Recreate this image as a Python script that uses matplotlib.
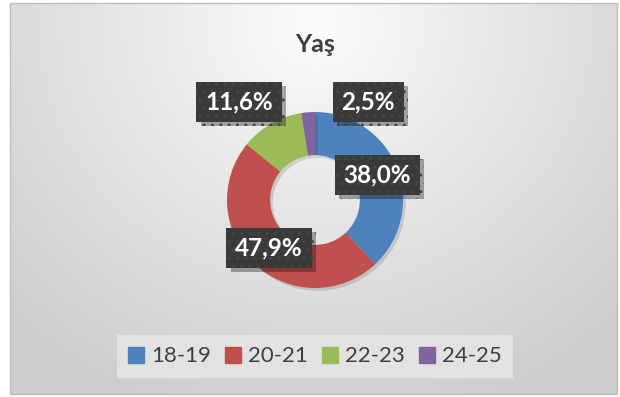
import numpy as np
import matplotlib.pyplot as plt
from matplotlib.patches import Rectangle, Patch
import matplotlib.patheffects as pe

# age groups and their share of respondents (%)
groups = ["18-19", "20-21", "22-23", "24-25"]
shares = [38.0, 47.9, 11.6, 2.5]
colors = ["#4f81bd", "#c0504d", "#9bbb59", "#8064a2"]

# label box centres, in pixels from the top-left corner
label_xy = [(377, 175), (269, 248), (239, 102), (368, 102)]

W, H = 620, 397
fig = plt.figure(figsize=(W / 100, H / 100), dpi=100)
ax = fig.add_axes([0, 0, 1, 1])
ax.set_xlim(0, W)
ax.set_ylim(0, H)
ax.axis("off")

# chart area with a soft grey gradient
x0, x1, y0, y1 = 10, 617, H - 394, H - 3
gx, gy = np.meshgrid(np.linspace(x0, x1, 300), np.linspace(y1, y0, 200))
d = np.sqrt(((gx - 315) / 360) ** 2 + ((gy - (H - 25)) / 340) ** 2)
shade = 0.985 - 0.15 * np.clip(d, 0, 1.2)
ax.imshow(np.dstack([shade, shade, shade]), extent=(x0, x1, y0, y1),
          aspect="auto", zorder=0, interpolation="bilinear")
ax.add_patch(Rectangle((x0, y0), x1 - x0, y1 - y0, fill=False,
                       ec="#bdbdbd", lw=1, zorder=1))

cx, cy, r = 315, H - 200, 88
wedges, _ = ax.pie(shares, colors=colors, startangle=90, counterclock=False,
                   center=(cx, cy), radius=r, frame=True,
                   wedgeprops=dict(width=r * 0.49, edgecolor="none"))
for w in wedges:
    w.set_zorder(2)
    w.set_path_effects([pe.SimplePatchShadow(offset=(2, -2), alpha=0.15),
                        pe.Normal()])
ax.set_xlim(0, W)
ax.set_ylim(0, H)
ax.set_aspect("auto")
ax.axis("off")

for val, (lx, ly) in zip(shares, label_xy):
    t = ax.text(lx, H - ly, f"{val:.1f}%".replace(".", ","), ha="center",
                va="center", fontsize=17.5, fontweight="bold", color="white",
                family="Lato", zorder=5,
                bbox=dict(boxstyle="square,pad=0.36", fc="#3a3a3a",
                          ec="#464646", lw=0, hatch=".."))
    t.get_bbox_patch().set_path_effects(
        [pe.SimplePatchShadow(offset=(3, -3), alpha=0.35), pe.Normal()])

ax.text(315, H - 45, "Yaş", ha="center", va="center", fontsize=18,
        fontweight="bold", color="#404040", family="Lato")

handles = [Patch(color=c, label=g) for c, g in zip(colors, groups)]
leg = ax.legend(handles=handles, loc="center", bbox_to_anchor=(315, H - 356.5),
                bbox_transform=ax.transData, ncol=4, frameon=True,
                fancybox=False, prop=dict(family="Lato", size=16),
                handlelength=0.72, handleheight=0.72, handletextpad=0.3,
                columnspacing=0.65, borderpad=0.5, borderaxespad=0,
                labelcolor="#404040")
leg.get_frame().set_facecolor("#e2e2e2")
leg.get_frame().set_edgecolor("none")
leg.get_frame().set_alpha(1)

fig.savefig("out.png", dpi=100, facecolor="white")
